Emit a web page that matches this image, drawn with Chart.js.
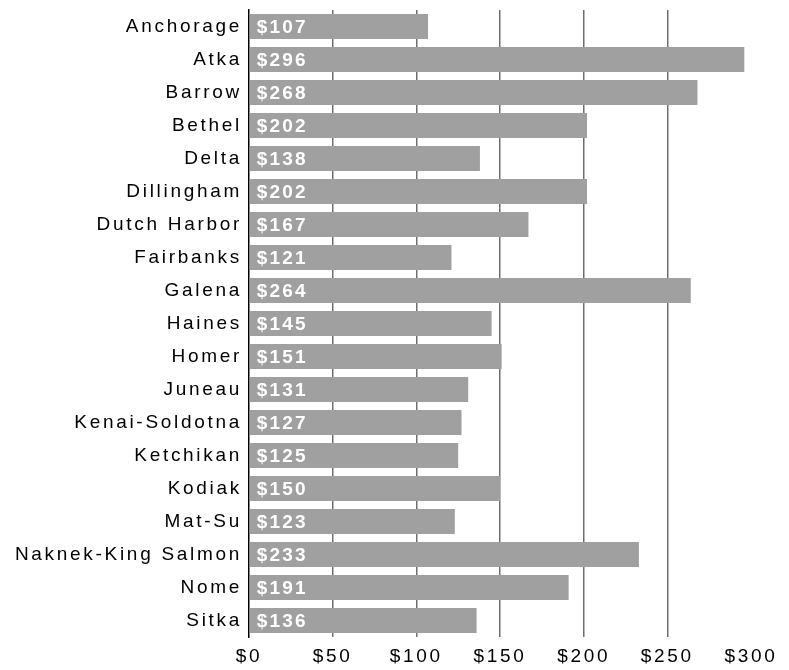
<!DOCTYPE html>
<html>
<head>
<meta charset="utf-8">
<script src="https://cdn.jsdelivr.net/npm/chart.js@4.4.0/dist/chart.umd.min.js"></script>
<style>
  html, body { margin: 0; padding: 0; background: #fff; }
  #mycanvas { display: block; }
</style>
</head>
<body>
<canvas id="mycanvas" width="789" height="670"></canvas>
<script>
var places = ['Anchorage', 'Atka', 'Barrow', 'Bethel', 'Delta', 'Dillingham', 'Dutch Harbor',
    'Fairbanks', 'Galena', 'Haines', 'Homer', 'Juneau', 'Kenai-Soldotna', 'Ketchikan',
    'Kodiak', 'Mat-Su', 'Naknek-King Salmon', 'Nome', 'Sitka'];
var costs = [107, 296, 268, 202, 138, 202, 167, 121, 264, 145, 151, 131, 127, 125, 150, 123, 233, 191, 136];
var xTicks = [0, 50, 100, 150, 200, 250, 300];

var ctx = document.getElementById('mycanvas').getContext('2d');

// the original text is drawn with wide letter spacing
var spacing = {
    id: 'spacing',
    beforeUpdate: function (chart) { chart.ctx.letterSpacing = '2.7px'; },
    beforeLayout: function (chart) { chart.ctx.letterSpacing = '2.7px'; },
    beforeDraw: function (chart) { chart.ctx.letterSpacing = '2.7px'; }
};

var barLabels = {
    id: 'barLabels',
    afterDatasetsDraw: function (chart) {
        var c = chart.ctx;
        var meta = chart.getDatasetMeta(0);
        c.save();
        c.letterSpacing = '2.2px';
        c.fillStyle = '#ffffff';
        c.font = 'bold 19px "Liberation Sans", Arial, sans-serif';
        c.textAlign = 'left';
        c.textBaseline = 'middle';
        meta.data.forEach(function (bar, i) {
            c.fillText('$' + costs[i], bar.base + 7, bar.y + 1);
        });
        c.restore();
    }
};

var myChart = new Chart(ctx, {
    type: 'bar',
    data: {
        labels: places,
        datasets: [{
            data: costs,
            backgroundColor: '#a0a0a0',
            borderWidth: 0,
            barPercentage: 0.76,
            categoryPercentage: 1
        }]
    },
    plugins: [spacing, barLabels],
    options: {
        indexAxis: 'y',
        responsive: false,
        animation: false,
        layout: { padding: { top: 10, left: 0, right: 38, bottom: 0 } },
        plugins: {
            legend: { display: false },
            tooltip: { enabled: false }
        },
        scales: {
            x: {
                min: 0,
                max: 300,
                afterBuildTicks: function (scale) {
                    scale.ticks = xTicks.map(function (v) { return { value: v }; });
                },
                afterFit: function (scale) { scale.height = 33; },
                border: { display: false },
                grid: {
                    drawTicks: false,
                    lineWidth: 1.5,
                    color: function (c) {
                        return (c.tick && (c.tick.value === 0 || c.tick.value === 300)) ? 'rgba(0,0,0,0)' : '#6e6e6e';
                    }
                },
                ticks: {
                    padding: 8,
                    color: '#000',
                    font: { family: '"Liberation Sans", Arial, sans-serif', size: 19 },
                    callback: function (v) { return '$' + v; }
                }
            },
            y: {
                afterFit: function (scale) {
                    scale.width = 249;
                    scale.paddingTop = 0;
                    scale.paddingBottom = 0;
                },
                border: { display: true, color: '#000', width: 1.5 },
                grid: { display: false, drawTicks: false },
                ticks: {
                    padding: 7,
                    color: '#000',
                    autoSkip: false,
                    font: { family: '"Liberation Sans", Arial, sans-serif', size: 19 }
                }
            }
        }
    }
});
</script>
</body>
</html>
